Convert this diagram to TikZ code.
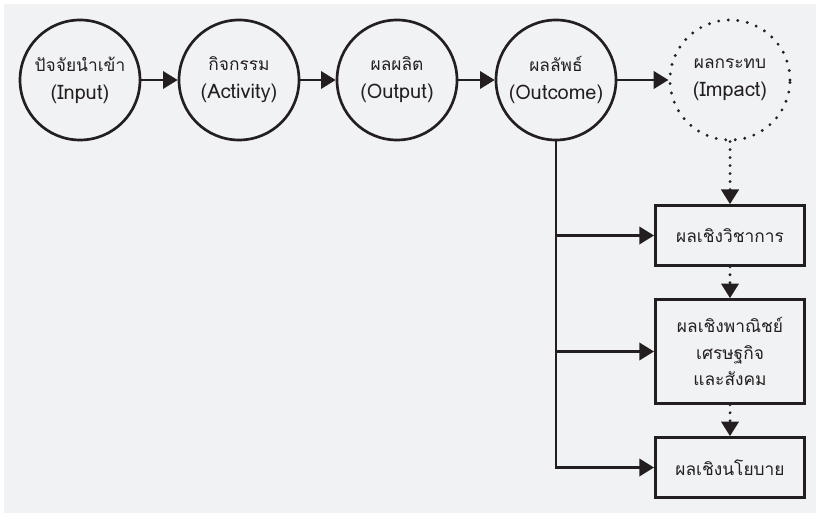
\documentclass[tikz,border=0pt]{standalone}
\usepackage{fontspec}
\newfontfamily\thaifont[Script=Thai]{Loma}
\usetikzlibrary{arrows.meta}
\definecolor{ink}{HTML}{231F20}
\definecolor{paper}{HTML}{F1F2F4}
\newcommand\eng[1]{{\fontsize{15}{20}\selectfont #1}}
\tikzset{
	stage/.style={circle, draw=ink, line width=2pt, fill=paper, minimum size=90pt, inner sep=0pt, align=center, text=ink, font=\thaifont\fontsize{13}{21}\selectfont},
	impact/.style={stage, line cap=round, dash pattern=on 0pt off 7.2pt, line width=2.4pt},
	result/.style={rectangle, draw=ink, line width=2pt, fill=paper, minimum width=112pt, minimum height=45pt, align=center, text=ink, font=\thaifont\fontsize{13}{20}\selectfont},
	flow/.style={draw=ink, line width=2pt, -{Triangle[length=11pt,width=13pt]}},
	dotflow/.style={flow, line cap=round, dash pattern=on 0pt off 6pt, line width=2.4pt}
}
\begin{document}
\begin{tikzpicture}[x=0.75pt, y=-0.75pt]
	\useasboundingbox (0,0) rectangle (816,513);
	\fill[paper] (4,4) rectangle (816,513);
	% chain of stages
	\node (In)  at ( 80, 80)	[stage]		{ปัจจัยนำเข้า\\\eng{(Input)}};
	\node (Act) at (239, 80)	[stage]		{กิจกรรม\\\eng{(Activity)}};
	\node (Out) at (397, 80)	[stage]		{ผลผลิต\\\eng{(Output)}};
	\node (Oc)  at (556, 80)	[stage]		{ผลลัพธ์\\\eng{(Outcome)}};
	\node (Imp) at (730, 80)	[impact]	{ผลกระทบ\\\eng{(Impact)}};
	% kinds of result
	\node (R1) at (730, 235.5)	[result]	{ผลเชิงวิชาการ};
	\node (R2) at (730, 351.5)	[result, minimum height=78pt]	{ผลเชิงพาณิชย์\\เศรษฐกิจ\\และสังคม};
	\node (R3) at (730, 467.5)	[result]	{ผลเชิงนโยบาย};
	\draw[flow] (In) -- (Act);
	\draw[flow] (Act) -- (Out);
	\draw[flow] (Out) -- (Oc);
	\draw[flow] (Oc) -- (Imp);
	\draw[flow] (Oc.south) |- (R3.west);
	\draw[flow] (Oc |- R1.west) -- (R1.west);
	\draw[flow] (Oc |- R2.west) -- (R2.west);
	\draw[dotflow] (Imp) -- (R1);
	\draw[dotflow] (R1) -- (R2);
	\draw[dotflow] (R2) -- (R3);
\end{tikzpicture}
\end{document}
